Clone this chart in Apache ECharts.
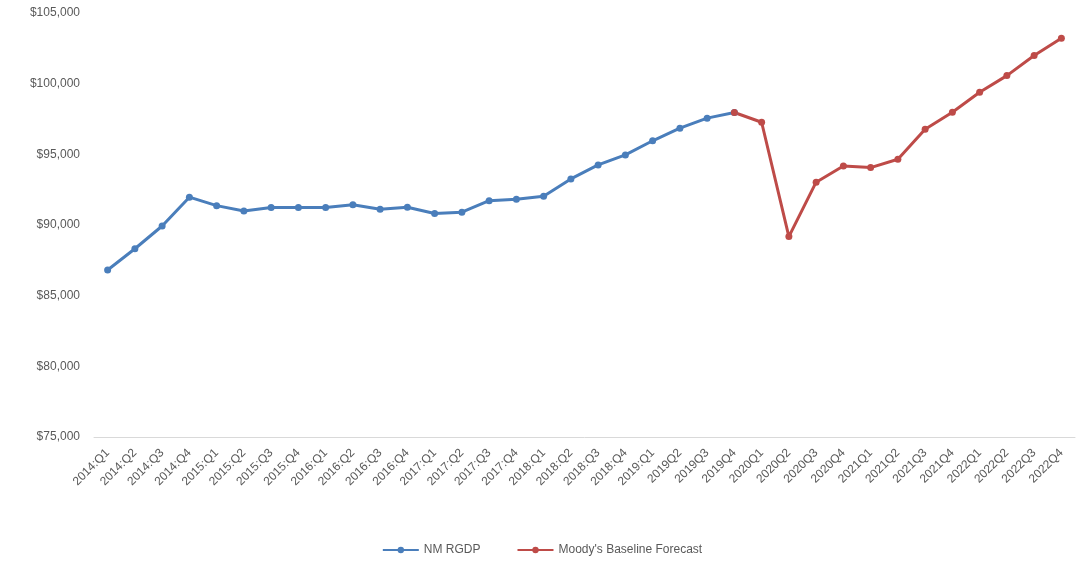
<!DOCTYPE html>
<html>
<head>
<meta charset="utf-8">
<script src="https://cdn.jsdelivr.net/npm/echarts@6/dist/echarts.min.js"></script>
<style>
html,body{margin:0;padding:0;background:#fff;}
#chart{width:1084px;height:563px;}
</style>
</head>
<body>
<div id="chart"></div>
<script>
const categories = [
  "2014:Q1","2014:Q2","2014:Q3","2014:Q4",
  "2015:Q1","2015:Q2","2015:Q3","2015:Q4",
  "2016:Q1","2016:Q2","2016:Q3","2016:Q4",
  "2017:Q1","2017:Q2","2017:Q3","2017:Q4",
  "2018:Q1","2018:Q2","2018:Q3","2018:Q4",
  "2019:Q1","2019Q2","2019Q3","2019Q4",
  "2020Q1","2020Q2","2020Q3","2020Q4",
  "2021Q1","2021Q2","2021Q3","2021Q4",
  "2022Q1","2022Q2","2022Q3","2022Q4"
];
const nmRgdp = [
  86820, 88320, 89930, 91970,
  91370, 90990, 91240, 91240,
  91240, 91430, 91120, 91250,
  90810, 90910, 91720, 91830,
  92040, 93260, 94250, 94960,
  95960, 96850, 97560, 97960,
  null, null, null, null,
  null, null, null, null,
  null, null, null, null
];
const moodysForecast = [
  null, null, null, null,
  null, null, null, null,
  null, null, null, null,
  null, null, null, null,
  null, null, null, null,
  null, null, null, 97960,
  97270, 89180, 93030, 94170,
  94060, 94650, 96780, 97980,
  99390, 100570, 101990, 103210
];
const yTicks = { min: 75000, max: 105000, interval: 5000 };

const chart = echarts.init(document.getElementById('chart'));
const font = '"Liberation Sans", "DejaVu Sans", sans-serif';
chart.setOption({
  animation: false,
  textStyle: { fontFamily: font },
  grid: { left: 94, right: 9, top: 13, bottom: 126, containLabel: false },
  legend: {
    bottom: 2,
    left: 'center',
    itemGap: 36,
    itemWidth: 36,
    itemHeight: 8,
    textStyle: { color: '#595959', fontSize: 12, fontFamily: font },
    data: ['NM RGDP', "Moody's Baseline Forecast"]
  },
  xAxis: {
    type: 'category',
    data: categories,
    boundaryGap: true,
    axisLine: { lineStyle: { color: '#d9d9d9', width: 1 } },
    axisTick: { show: false },
    axisLabel: {
      interval: 0,
      rotate: 45,
      color: '#595959',
      fontSize: 12,
      margin: 14,
      fontFamily: font
    },
    splitLine: { show: false }
  },
  yAxis: {
    type: 'value',
    min: yTicks.min,
    max: yTicks.max,
    interval: yTicks.interval,
    axisLine: { show: false },
    axisTick: { show: false },
    splitLine: { show: false },
    axisLabel: {
      color: '#595959',
      fontSize: 12,
      margin: 14,
      fontFamily: font,
      formatter: v => '$' + v.toLocaleString('en-US')
    }
  },
  series: [
    {
      name: 'NM RGDP',
      type: 'line',
      data: nmRgdp,
      symbol: 'circle',
      symbolSize: 7,
      lineStyle: { color: '#4A7EBB', width: 3 },
      itemStyle: { color: '#4A7EBB' },
      connectNulls: false
    },
    {
      name: "Moody's Baseline Forecast",
      type: 'line',
      data: moodysForecast,
      symbol: 'circle',
      symbolSize: 7,
      lineStyle: { color: '#BE4B48', width: 3 },
      itemStyle: { color: '#BE4B48' },
      connectNulls: false
    }
  ]
});
</script>
</body>
</html>
